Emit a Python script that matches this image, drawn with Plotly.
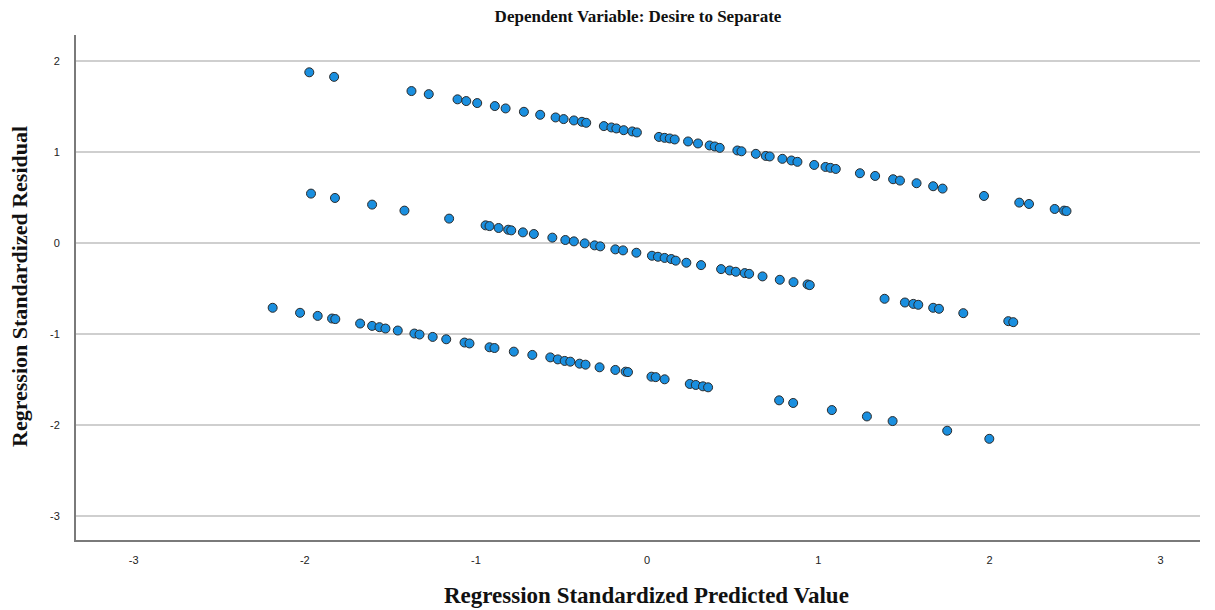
import plotly.graph_objects as go

# Top band (predicted, residual)
top_pred = [-1.974, -1.829, -1.377, -1.276, -1.108, -1.057, -0.993, -0.89, -0.827, -0.72, -0.625, -0.535,
            -0.488, -0.428, -0.381, -0.356, -0.253, -0.209, -0.18, -0.137, -0.087, -0.06, 0.069, 0.102,
            0.132, 0.161, 0.239, 0.297, 0.365, 0.395, 0.424, 0.527, 0.551, 0.635, 0.693, 0.716, 0.79,
            0.843, 0.878, 0.976, 1.042, 1.071, 1.102, 1.243, 1.332, 1.437, 1.477, 1.574, 1.671, 1.726,
            1.968, 2.174, 2.231, 2.381, 2.436, 2.45]
top_resid = [1.88, 1.83, 1.674, 1.64, 1.583, 1.564, 1.542, 1.509, 1.483, 1.446, 1.413, 1.384,
             1.366, 1.351, 1.336, 1.325, 1.289, 1.274, 1.263, 1.244, 1.23, 1.219, 1.17, 1.16,
             1.153, 1.142, 1.12, 1.098, 1.076, 1.065, 1.05, 1.021, 1.012, 0.984, 0.961, 0.955, 0.929,
             0.911, 0.896, 0.862, 0.84, 0.83, 0.818, 0.771, 0.741, 0.705, 0.69, 0.661, 0.628, 0.602,
             0.521, 0.448, 0.433, 0.378, 0.36, 0.355]

# Middle band
mid_pred = [-1.964, -1.824, -1.607, -1.418, -1.157, -0.944, -0.921, -0.868, -0.812, -0.794, -0.726, -0.662,
            -0.554, -0.478, -0.428, -0.365, -0.307, -0.274, -0.186, -0.141, -0.063, 0.028, 0.063, 0.102,
            0.141, 0.167, 0.229, 0.315, 0.432, 0.482, 0.518, 0.57, 0.596, 0.674, 0.775, 0.855, 0.937,
            0.95, 1.387, 1.506, 1.555, 1.584, 1.671, 1.705, 1.847, 2.11, 2.139]
mid_resid = [0.547, 0.499, 0.426, 0.36, 0.272, 0.198, 0.19, 0.169, 0.15, 0.143, 0.121, 0.103,
             0.063, 0.037, 0.022, 0.0, -0.022, -0.033, -0.066, -0.077, -0.103, -0.136, -0.147, -0.16,
             -0.172, -0.19, -0.213, -0.239, -0.283, -0.298, -0.312, -0.327, -0.335, -0.363, -0.4, -0.426, -0.451,
             -0.459, -0.609, -0.65, -0.665, -0.675, -0.708, -0.719, -0.767, -0.855, -0.866]

# Bottom band
bot_pred = [-2.188, -2.028, -1.925, -1.841, -1.822, -1.677, -1.607, -1.564, -1.529, -1.457, -1.36, -1.33,
            -1.253, -1.174, -1.067, -1.038, -0.921, -0.892, -0.779, -0.671, -0.566, -0.522, -0.482, -0.449,
            -0.395, -0.36, -0.278, -0.186, -0.126, -0.112, 0.025, 0.05, 0.102, 0.249, 0.284, 0.326, 0.356,
            0.771, 0.853, 1.079, 1.284, 1.434, 1.753, 1.999]
bot_resid = [-0.708, -0.763, -0.797, -0.826, -0.832, -0.881, -0.907, -0.921, -0.936, -0.958, -0.991, -1.002,
             -1.028, -1.054, -1.09, -1.1, -1.142, -1.15, -1.19, -1.226, -1.253, -1.275, -1.292, -1.3,
             -1.322, -1.333, -1.362, -1.391, -1.41, -1.415, -1.465, -1.47, -1.494, -1.545, -1.556, -1.571, -1.582,
             -1.725, -1.754, -1.832, -1.902, -1.953, -2.059, -2.148]

x_ticks = [-3, -2, -1, 0, 1, 2, 3]
x_tick_labels = ["-3", "-2", "-1", "0", "1", "2", "3"]
y_ticks = [-3, -2, -1, 0, 1, 2]
y_tick_labels = ["-3", "-2", "-1", "0", "1", "2"]

title_text = "Dependent Variable: Desire to Separate"
x_title = "Regression Standardized Predicted Value"
y_title = "Regression Standardized Residual"

fig = go.Figure()
fig.add_trace(go.Scatter(
    x=top_pred + mid_pred + bot_pred,
    y=top_resid + mid_resid + bot_resid,
    mode="markers",
    marker=dict(size=9, color="#1a8fdf", line=dict(color="#2a2a2a", width=1)),
    showlegend=False,
    hoverinfo="x+y",
))

serif = "Liberation Serif, Times New Roman, serif"
sans = "Liberation Sans, Arial, sans-serif"

fig.update_layout(
    width=1215, height=610,
    margin=dict(l=76, r=15, t=35, b=70),
    paper_bgcolor="white", plot_bgcolor="white",
    title=dict(text="<b>" + title_text + "</b>", x=0.5, xref="paper", y=1 - 16 / 610, yanchor="middle",
               font=dict(family=serif, size=17, color="#111")),
    xaxis=dict(range=[-3.337, 3.23], tickvals=x_ticks, ticktext=x_tick_labels, showgrid=False, zeroline=False,
               showline=True, linecolor="#7a7a7a", linewidth=2, ticks="",
               ticklabelstandoff=9,
               tickfont=dict(family=sans, size=11, color="#222")),
    yaxis=dict(range=[-3.26, 2.29], tickvals=y_ticks, ticktext=y_tick_labels, showgrid=True,
               gridcolor="#cfcfcf", gridwidth=1.5,
               zeroline=False, showline=True, linecolor="#7a7a7a", linewidth=2, ticks="",
               ticklabelstandoff=12,
               tickfont=dict(family=sans, size=11, color="#222")),
    annotations=[
        dict(text="<b>" + x_title + "</b>", xref="paper", yref="paper", x=0.5 + (646.5 - 638) / 1124,
             y=-(595 - 540) / 505, xanchor="center", yanchor="middle", showarrow=False,
             font=dict(family=serif, size=23, color="#111")),
        dict(text="<b>" + y_title + "</b>", xref="paper", yref="paper", x=-(76 - 19) / 1124,
             y=1 - (287 - 35) / 505, xanchor="center", yanchor="middle", textangle=-90, showarrow=False,
             font=dict(family=serif, size=22, color="#111")),
    ],
)

fig.write_html("out.html")
